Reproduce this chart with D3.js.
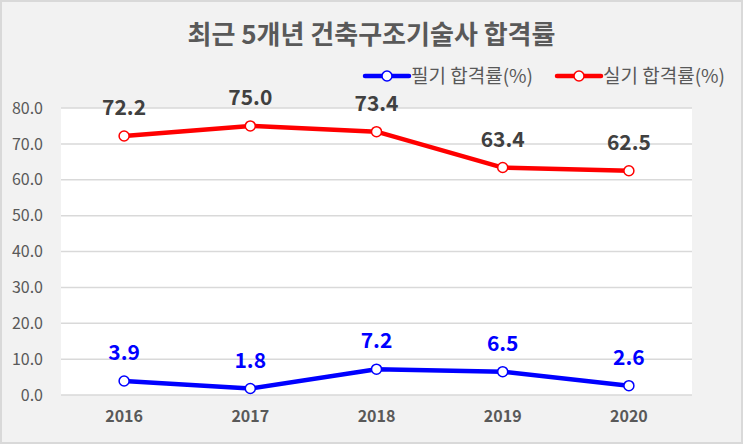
<!DOCTYPE html>
<meta charset="utf-8">
<style>
body { margin: 0; background: #fff; }
svg text { font-family: "Malgun Gothic", "Noto Sans CJK KR", sans-serif; }
</style>
<body>
<div id="chart"></div>
<script src="https://cdn.jsdelivr.net/npm/d3@7"></script>
<script>

var years = ['2016', '2017', '2018', '2019', '2020'];
var writtenRate = [3.9, 1.8, 7.2, 6.5, 2.6];
var practicalRate = [72.2, 75.0, 73.4, 63.4, 62.5];
var yTicks = [0, 10, 20, 30, 40, 50, 60, 70, 80];

var series = [
  {name: '필기 합격률(%)', values: writtenRate, color: '#0000ff', labelColor: '#0000ff'},
  {name: '실기 합격률(%)', values: practicalRate, color: '#ff0000', labelColor: '#404040'}
];

var W = 743, H = 444;
var margin = {top: 108, right: 51, bottom: 49, left: 61};

var svg = d3.select('#chart').append('svg')
  .attr('width', W)
  .attr('height', H);

// chart background + border
svg.append('rect')
  .attr('x', 1).attr('y', 1)
  .attr('width', W - 2).attr('height', H - 2)
  .style('fill', '#f2f2f2')
  .style('stroke', '#d9d9d9')
  .style('stroke-width', 2);

var x = d3.scaleBand()
  .domain(years)
  .range([margin.left, W - margin.right]);

var y = d3.scaleLinear()
  .domain([0, 80])
  .range([H - margin.bottom, margin.top]);

// plot area
svg.append('rect')
  .attr('x', margin.left)
  .attr('y', margin.top)
  .attr('width', W - margin.left - margin.right)
  .attr('height', H - margin.top - margin.bottom)
  .style('fill', '#ffffff');

// gridlines
svg.append('g')
  .selectAll('line')
  .data(yTicks)
  .enter().append('line')
  .attr('x1', margin.left)
  .attr('x2', W - margin.right)
  .attr('y1', function(d){ return y(d); })
  .attr('y2', function(d){ return y(d); })
  .style('stroke', '#d9d9d9')
  .style('stroke-width', 1.5);

// y axis labels
var yAxis = d3.axisLeft(y).tickValues(yTicks).tickFormat(d3.format('.1f')).tickSize(0).tickPadding(18);
var gy = svg.append('g')
  .attr('transform', 'translate(' + margin.left + ',0)')
  .call(yAxis);
gy.select('.domain').remove();
gy.selectAll('text')
  .style('font-size', '16px')
  .style('fill', '#595959');

// x axis labels
var xAxis = d3.axisBottom(x).tickSize(0).tickPadding(16);
var gx = svg.append('g')
  .attr('transform', 'translate(0,' + (H - margin.bottom) + ')')
  .call(xAxis);
gx.select('.domain').remove();
gx.selectAll('text')
  .style('font-size', '16px')
  .style('font-weight', 'bold')
  .style('fill', '#595959');

var line = d3.line()
  .x(function(d, i){ return x(years[i]) + x.bandwidth() / 2; })
  .y(function(d){ return y(d); });

series.forEach(function(s){
  var g = svg.append('g');
  g.append('path')
    .datum(s.values)
    .attr('d', line)
    .style('fill', 'none')
    .style('stroke', s.color)
    .style('stroke-width', 4.5)
    .style('stroke-linejoin', 'round');

  g.selectAll('circle')
    .data(s.values)
    .enter().append('circle')
    .attr('cx', function(d, i){ return x(years[i]) + x.bandwidth() / 2; })
    .attr('cy', function(d){ return y(d); })
    .attr('r', 5)
    .style('fill', '#ffffff')
    .style('stroke', s.color)
    .style('stroke-width', 1.5);

  g.selectAll('text')
    .data(s.values)
    .enter().append('text')
    .attr('x', function(d, i){ return x(years[i]) + x.bandwidth() / 2; })
    .attr('y', function(d){ return y(d) - 21; })
    .attr('text-anchor', 'middle')
    .style('font-size', '21px')
    .style('font-weight', 'bold')
    .style('fill', s.labelColor)
    .text(function(d){ return d3.format('.1f')(d); });
});

// title
svg.append('text')
  .attr('x', W / 2)
  .attr('y', 44)
  .attr('text-anchor', 'middle')
  .style('font-size', '26px')
  .style('font-weight', 'bold')
  .style('fill', '#595959')
  .text('최근 5개년 건축구조기술사 합격률');

// legend
var legendX = [365, 557];
series.forEach(function(s, i){
  var lg = svg.append('g').attr('transform', 'translate(' + legendX[i] + ',76)');
  lg.append('line')
    .attr('x1', 0).attr('x2', 44)
    .attr('y1', 0).attr('y2', 0)
    .style('stroke', s.color)
    .style('stroke-width', 4.5)
    .style('stroke-linecap', 'round');
  lg.append('circle')
    .attr('cx', 22).attr('cy', 0).attr('r', 5)
    .style('fill', '#ffffff')
    .style('stroke', s.color)
    .style('stroke-width', 1.5);
  lg.append('text')
    .attr('x', 46).attr('y', 0)
    .attr('dy', '0.35em')
    .style('font-size', '19px')
    .style('fill', '#595959')
    .text(s.name);
});

</script>
